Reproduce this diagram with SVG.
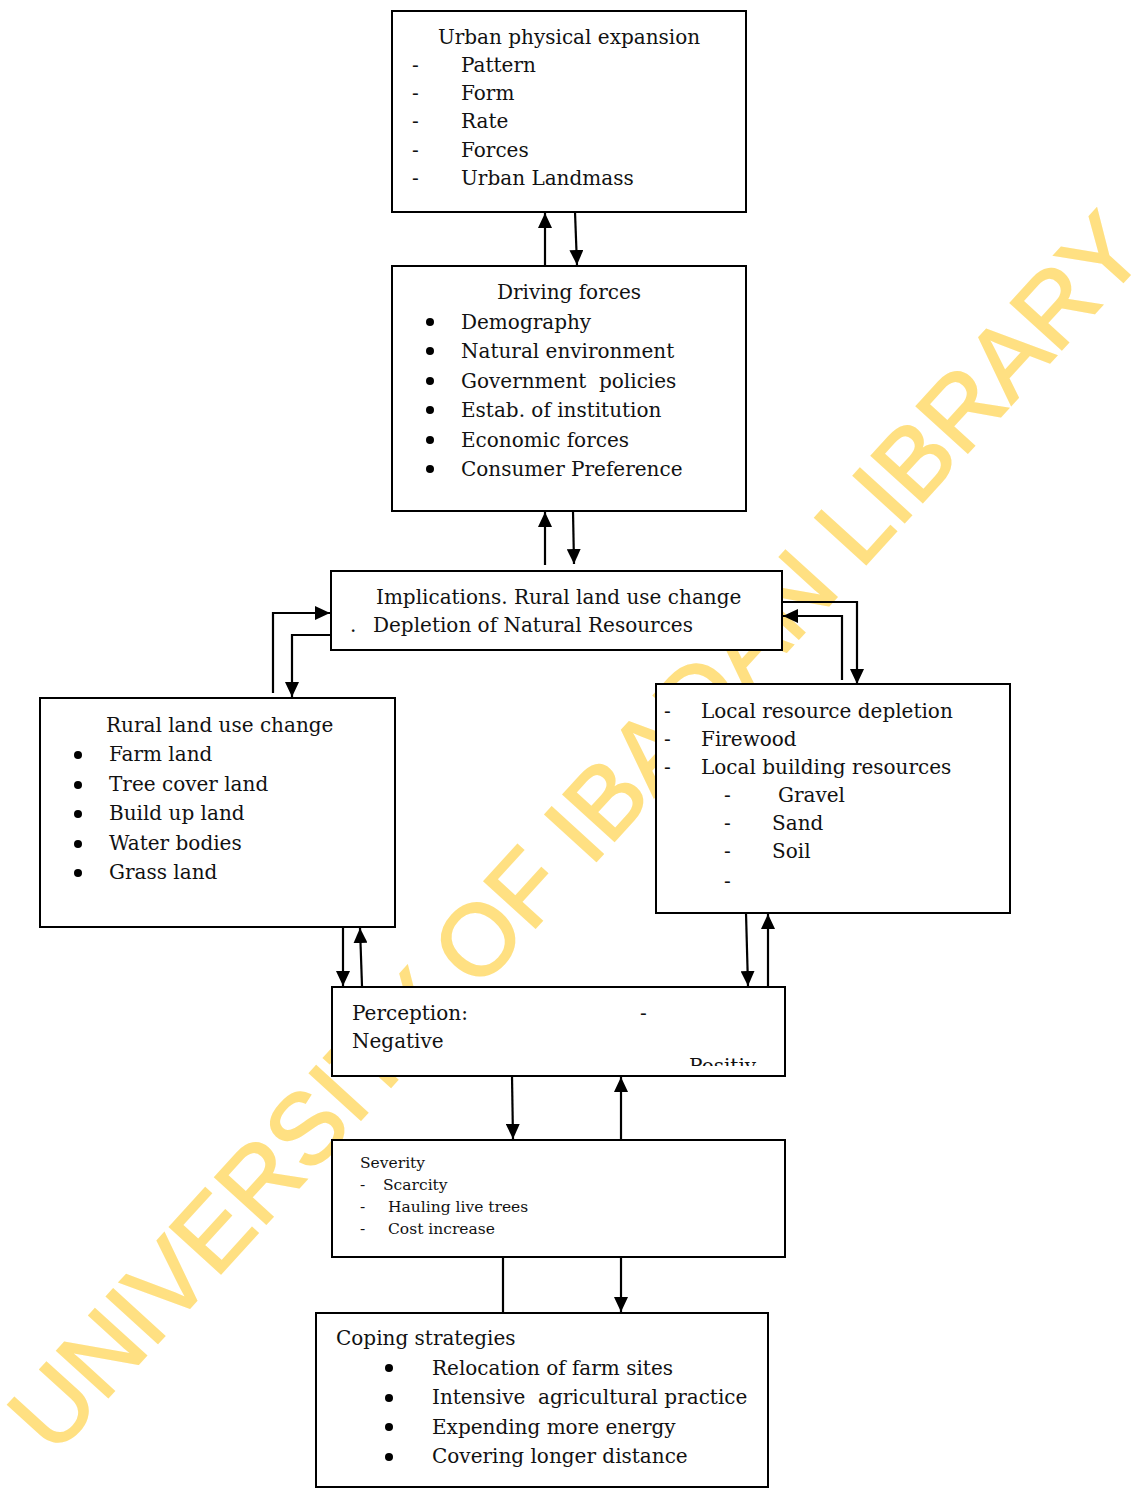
<svg xmlns="http://www.w3.org/2000/svg" width="1135" height="1489" viewBox="0 0 1135 1489">
<style>
  .box { fill: #fff; stroke: #000; stroke-width: 2; }
  .t { font-family: "DejaVu Serif", "Liberation Serif", serif; font-size: 20px; fill: #111; white-space: pre; }
  .s { font-family: "DejaVu Serif", "Liberation Serif", serif; font-size: 15.5px; fill: #111; white-space: pre; }
  .c { fill: none; stroke: #000; stroke-width: 2.2; }
  .wm { font-family: "Liberation Sans", Arial, sans-serif; font-size: 100.5px; fill: #FFE082; stroke: #FFE082; stroke-width: 2; }
</style>
<defs>
  <marker id="ah" markerUnits="userSpaceOnUse" markerWidth="16" markerHeight="14" refX="15" refY="7" orient="auto">
    <path d="M0,0 L15,7 L0,14 z" fill="#000"/>
  </marker>
  <clipPath id="posclip"><rect x="332" y="1040" width="425" height="26"/></clipPath>
</defs>
<rect x="0" y="0" width="1135" height="1489" fill="#fff"/>

<g id="watermark">
  <text class="wm" x="54" y="1457" transform="rotate(-47.7 54 1457)">UNIVERSITY OF IBADAN LIBRARY</text>
</g>

<g id="connectors">
  <line class="c" x1="545" y1="266" x2="545" y2="213" marker-end="url(#ah)"/>
  <line class="c" x1="575" y1="212" x2="577" y2="265" marker-end="url(#ah)"/>
  <line class="c" x1="545" y1="565" x2="545" y2="512" marker-end="url(#ah)"/>
  <line class="c" x1="573" y1="511" x2="574" y2="564" marker-end="url(#ah)"/>
  <polyline class="c" points="273,693 273,613 330,613" marker-end="url(#ah)"/>
  <polyline class="c" points="331,635 292,635 292,697" marker-end="url(#ah)"/>
  <polyline class="c" points="782,602 857,602 857,684" marker-end="url(#ah)"/>
  <polyline class="c" points="842,680 842,616 783,616" marker-end="url(#ah)"/>
  <line class="c" x1="343" y1="927" x2="343" y2="986" marker-end="url(#ah)"/>
  <line class="c" x1="362" y1="986" x2="360" y2="928" marker-end="url(#ah)"/>
  <line class="c" x1="746" y1="913" x2="748" y2="986" marker-end="url(#ah)"/>
  <line class="c" x1="768" y1="986" x2="768" y2="914" marker-end="url(#ah)"/>
  <line class="c" x1="512" y1="1076" x2="513" y2="1139" marker-end="url(#ah)"/>
  <line class="c" x1="621" y1="1140" x2="621" y2="1077" marker-end="url(#ah)"/>
  <line class="c" x1="503" y1="1257" x2="503" y2="1313"/>
  <line class="c" x1="621" y1="1257" x2="621" y2="1312" marker-end="url(#ah)"/>
</g>

<g id="urban">
  <rect class="box" x="392" y="11" width="354" height="201"/>
  <text class="t" x="569" y="44" text-anchor="middle">Urban physical expansion</text>
  <text class="t" x="412" y="72">-</text><text class="t" x="461" y="72">Pattern</text>
  <text class="t" x="412" y="100">-</text><text class="t" x="461" y="100">Form</text>
  <text class="t" x="412" y="128">-</text><text class="t" x="461" y="128">Rate</text>
  <text class="t" x="412" y="157">-</text><text class="t" x="461" y="157">Forces</text>
  <text class="t" x="412" y="185">-</text><text class="t" x="461" y="185">Urban Landmass</text>
</g>

<g id="driving">
  <rect class="box" x="392" y="266" width="354" height="245"/>
  <text class="t" x="569" y="299" text-anchor="middle">Driving forces</text>
  <circle cx="430" cy="322" r="4"/><text class="t" x="461" y="329">Demography</text>
  <circle cx="430" cy="351" r="4"/><text class="t" x="461" y="358">Natural environment</text>
  <circle cx="430" cy="381" r="4"/><text class="t" x="461" y="388">Government  policies</text>
  <circle cx="430" cy="410" r="4"/><text class="t" x="461" y="417">Estab. of institution</text>
  <circle cx="430" cy="440" r="4"/><text class="t" x="461" y="447">Economic forces</text>
  <circle cx="430" cy="469" r="4"/><text class="t" x="461" y="476">Consumer Preference</text>
</g>

<g id="implications">
  <rect class="box" x="331" y="571" width="451" height="79"/>
  <text class="t" x="376" y="604">Implications. Rural land use change</text>
  <text class="t" x="350" y="632">.</text><text class="t" x="373" y="632">Depletion of Natural Resources</text>
</g>

<g id="rural">
  <rect class="box" x="40" y="698" width="355" height="229"/>
  <text class="t" x="106" y="732">Rural land use change</text>
  <circle cx="78" cy="755" r="4"/><text class="t" x="109" y="761">Farm land</text>
  <circle cx="78" cy="785" r="4"/><text class="t" x="109" y="791">Tree cover land</text>
  <circle cx="78" cy="814" r="4"/><text class="t" x="109" y="820">Build up land</text>
  <circle cx="78" cy="844" r="4"/><text class="t" x="109" y="850">Water bodies</text>
  <circle cx="78" cy="873" r="4"/><text class="t" x="109" y="879">Grass land</text>
</g>

<g id="local">
  <rect class="box" x="656" y="684" width="354" height="229"/>
  <text class="t" x="664" y="718">-</text><text class="t" x="701" y="718">Local resource depletion</text>
  <text class="t" x="664" y="746">-</text><text class="t" x="701" y="746">Firewood</text>
  <text class="t" x="664" y="774">-</text><text class="t" x="701" y="774">Local building resources</text>
  <text class="t" x="724" y="802">-</text><text class="t" x="778" y="802">Gravel</text>
  <text class="t" x="724" y="830">-</text><text class="t" x="772" y="830">Sand</text>
  <text class="t" x="724" y="858">-</text><text class="t" x="772" y="858">Soil</text>
  <text class="t" x="724" y="888">-</text>
</g>

<g id="perception">
  <rect class="box" x="332" y="987" width="453" height="89"/>
  <text class="t" x="352" y="1020">Perception:</text>
  <text class="t" x="640" y="1020">-</text>
  <text class="t" x="352" y="1048">Negative</text>
  <text class="t" x="689" y="1073" clip-path="url(#posclip)">Positive</text>
</g>

<g id="severity">
  <rect class="box" x="332" y="1140" width="453" height="117"/>
  <text class="s" x="360" y="1168">Severity</text>
  <text class="s" x="360" y="1190">-</text><text class="s" x="383" y="1190">Scarcity</text>
  <text class="s" x="360" y="1212">-</text><text class="s" x="388" y="1212">Hauling live trees</text>
  <text class="s" x="360" y="1234">-</text><text class="s" x="388" y="1234">Cost increase</text>
</g>

<g id="coping">
  <rect class="box" x="316" y="1313" width="452" height="174"/>
  <text class="t" x="336" y="1345">Coping strategies</text>
  <circle cx="389" cy="1368" r="4"/><text class="t" x="432" y="1375">Relocation of farm sites</text>
  <circle cx="389" cy="1398" r="4"/><text class="t" x="432" y="1404">Intensive  agricultural practice</text>
  <circle cx="389" cy="1427" r="4"/><text class="t" x="432" y="1434">Expending more energy</text>
  <circle cx="389" cy="1457" r="4"/><text class="t" x="432" y="1463">Covering longer distance</text>
</g>
</svg>
